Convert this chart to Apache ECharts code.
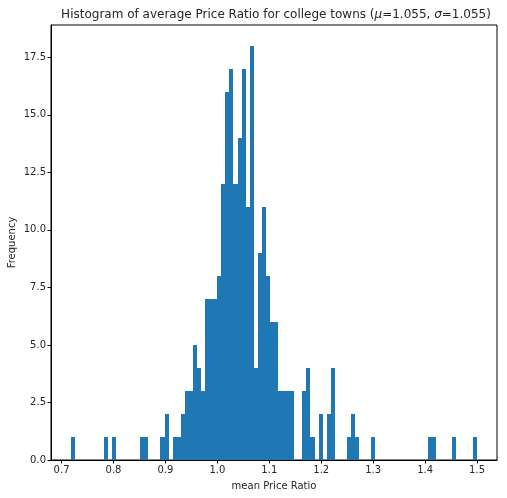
<!DOCTYPE html>
<html lang="en">
<head>
    <meta charset="UTF-8">
    <title>Histogram</title>
    <script src="https://cdn.jsdelivr.net/npm/echarts@6.0.0/dist/echarts.min.js"></script>
</head>
<body style="margin:0">
<div id="chartBox" style="width: 507px; height: 498px;"></div>
<script>
    // histogram settings (100 bins)
    var binMin = 0.7187;
    var binMax = 1.4994;
    var binNum = 100;

    // counts per bin
    var counts = [
        1, 0, 0, 0, 0, 0, 0, 0, 1, 0,
        1, 0, 0, 0, 0, 0, 0, 1, 1, 0,
        0, 0, 1, 2, 0, 1, 1, 2, 3, 3,
        5, 4, 3, 7, 7, 7, 8, 12, 16, 17,
        12, 14, 17, 11, 18, 4, 9, 11, 8, 6,
        6, 3, 3, 3, 3, 0, 0, 3, 4, 1,
        0, 2, 0, 2, 4, 0, 0, 0, 1, 2,
        1, 0, 0, 0, 1, 0, 0, 0, 0, 0,
        0, 0, 0, 0, 0, 0, 0, 0, 1, 1,
        0, 0, 0, 0, 1, 0, 0, 0, 0, 1
    ];

    var xTicks = [0.7, 0.8, 0.9, 1.0, 1.1, 1.2, 1.3, 1.4, 1.5];

    // bin edges -> [left, right, count]
    var binWidth = (binMax - binMin) / binNum;
    var histData = [];
    for (var i = 0; i < counts.length; i++) {
        if (counts[i] > 0) {
            histData.push([binMin + i * binWidth, binMin + (i + 1) * binWidth, counts[i]]);
        }
    }

    var pad = (binMax - binMin) * 0.05;
    var textColor = '#262626';
    var font = 'DejaVu Sans';

    var chart = echarts.init(document.getElementById('chartBox'));
    chart.setOption({
        animation: false,
        title: {
            text: 'Histogram of average Price Ratio for college towns ({i|μ}=1.055, {i|σ}=1.055)',
            left: 271,
            textAlign: 'center',
            top: 4,
            textStyle: {
                fontFamily: font,
                fontSize: 12,
                fontWeight: 'normal',
                color: textColor,
                rich: {
                    i: {fontFamily: font, fontSize: 12, fontStyle: 'italic', color: textColor}
                }
            }
        },
        grid: {
            left: 51,
            right: 10,
            top: 25,
            bottom: 38,
            containLabel: false,
            outerBoundsMode: 'none',
            show: true,
            borderColor: '#000',
            borderWidth: 1,
            backgroundColor: '#fff'
        },
        xAxis: {
            type: 'value',
            min: binMin - pad,
            max: binMax + pad,
            name: 'mean Price Ratio',
            nameLocation: 'middle',
            nameGap: 21,
            nameMoveOverlap: false,
            nameTextStyle: {fontFamily: font, fontSize: 10, color: textColor},
            axisLine: {show: true, lineStyle: {color: '#000'}},
            axisTick: {show: true, length: 3.5, lineStyle: {color: '#000'}, customValues: xTicks},
            axisLabel: {
                fontFamily: font, fontSize: 10, color: textColor, margin: 5,
                customValues: xTicks,
                formatter: function (v) { return v.toFixed(1); }
            },
            splitLine: {show: false}
        },
        yAxis: {
            type: 'value',
            min: 0,
            max: 18 * 1.05,
            interval: 2.5,
            name: 'Frequency',
            nameLocation: 'middle',
            nameGap: 34,
            nameMoveOverlap: false,
            nameTextStyle: {fontFamily: font, fontSize: 10, color: textColor},
            axisLine: {show: true, lineStyle: {color: '#000'}},
            axisTick: {show: true, length: 3.5, lineStyle: {color: '#000'}},
            axisLabel: {
                fontFamily: font, fontSize: 10, color: textColor, margin: 5,
                showMaxLabel: false,
                formatter: function (v) { return v.toFixed(1); }
            },
            splitLine: {show: false}
        },
        series: [{
            type: 'custom',
            data: histData,
            encode: {x: [0, 1], y: 2},
            renderItem: function (params, api) {
                var p0 = api.coord([api.value(0), 0]);
                var p1 = api.coord([api.value(1), api.value(2)]);
                // snap to whole pixels so neighbouring bins join without seams
                var x0 = Math.round(p0[0]);
                var x1 = Math.round(p1[0]);
                var y1 = Math.round(p1[1]);
                return {
                    type: 'rect',
                    shape: {x: x0, y: y1, width: x1 - x0, height: p0[1] - y1},
                    style: {fill: '#1f77b4'}
                };
            }
        }]
    });
</script>
</body>
</html>
